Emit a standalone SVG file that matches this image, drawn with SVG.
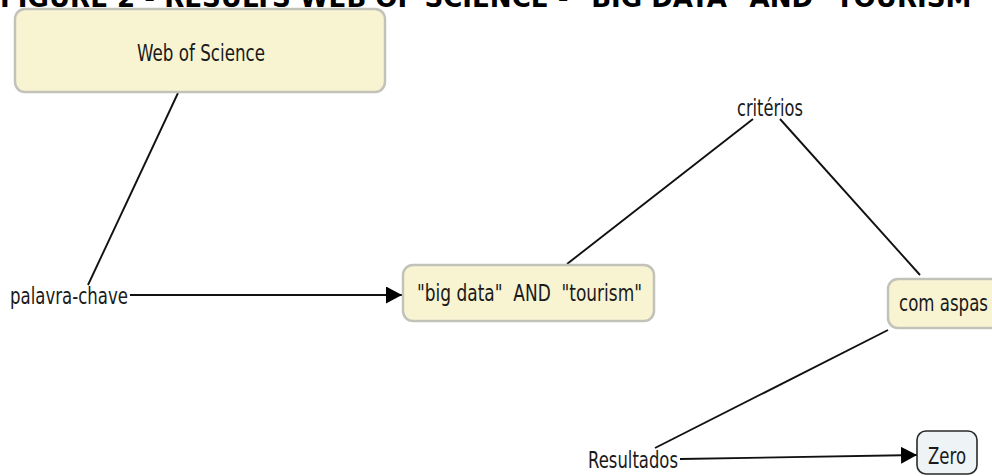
<svg xmlns="http://www.w3.org/2000/svg" width="992" height="476" viewBox="0 0 992 476">
<defs>
<style>
.t{font-family:"DejaVu Sans","Verdana",sans-serif;font-size:23px;fill:#1a1a1a;}
.title{font-family:"DejaVu Sans","Verdana",sans-serif;font-size:26px;font-weight:bold;fill:#000;}
.cy{fill:#f8f4d2;stroke:#c2c2ba;stroke-width:2.5;}
.cb{fill:#eef3f6;stroke:#2a2a2a;stroke-width:1.6;}
.ln{stroke:#111;stroke-width:1.9;fill:none;}
</style>
<marker id="ah" viewBox="0 0 10 10" refX="10" refY="5" markerWidth="16" markerHeight="17" markerUnits="userSpaceOnUse" orient="auto" preserveAspectRatio="none">
<path d="M0,0 L10,5 L0,10 Z" fill="#000"/>
</marker>
</defs>
<rect width="992" height="476" fill="#fff"/>
<text class="title" x="0" y="7" textLength="985" lengthAdjust="spacingAndGlyphs">FIGURE 2 - RESULTS WEB OF SCIENCE - "BIG DATA" AND "TOURISM"</text>
<g id="connectors">
<line class="ln" x1="178" y1="93" x2="88" y2="285"/>
<line class="ln" x1="130" y1="295" x2="402" y2="295" marker-end="url(#ah)"/>
<line class="ln" x1="567" y1="264" x2="753" y2="119"/>
<line class="ln" x1="780" y1="119" x2="920" y2="275"/>
<line class="ln" x1="888" y1="330" x2="655" y2="448"/>
<line class="ln" x1="680" y1="459" x2="917" y2="455" marker-end="url(#ah)"/>
</g>
<g id="web-of-science">
<rect class="cy" x="15" y="9" width="370" height="83" rx="10"/>
<text class="t" x="137" y="61" textLength="128" lengthAdjust="spacingAndGlyphs">Web of Science</text>
</g>
<g id="palavra-chave">
<text class="t" x="10" y="304" textLength="118" lengthAdjust="spacingAndGlyphs">palavra-chave</text>
</g>
<g id="big-data-tourism">
<rect class="cy" x="403" y="265" width="251" height="56" rx="10"/>
<text class="t" x="417" y="301" textLength="225" lengthAdjust="spacingAndGlyphs" style="white-space:pre">"big data"  AND  "tourism"</text>
</g>
<g id="criterios">
<text class="t" x="737" y="116" textLength="66" lengthAdjust="spacingAndGlyphs">critérios</text>
</g>
<g id="com-aspas">
<rect class="cy" x="888" y="279" width="120" height="49" rx="10"/>
<text class="t" x="899" y="311" textLength="89" lengthAdjust="spacingAndGlyphs">com aspas</text>
</g>
<g id="resultados">
<text class="t" x="588" y="468" textLength="90" lengthAdjust="spacingAndGlyphs">Resultados</text>
</g>
<g id="zero">
<rect class="cb" x="917" y="431" width="60" height="43" rx="9"/>
<text class="t" x="928" y="464" textLength="38" lengthAdjust="spacingAndGlyphs">Zero</text>
</g>
</svg>
